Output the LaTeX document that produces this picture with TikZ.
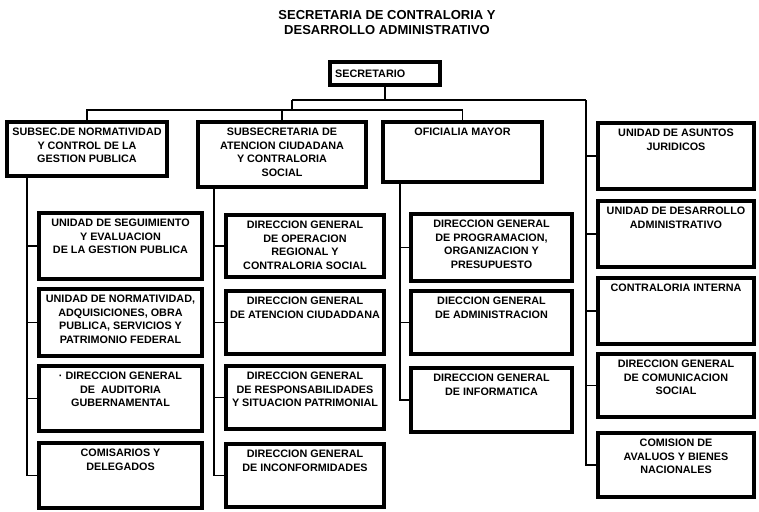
\documentclass[tikz,border=0pt]{standalone}
\usepackage{fontspec}
\setmainfont{Liberation Sans}
\begin{document}
\begin{tikzpicture}[x=1pt,y=-1pt,
  bx/.style={draw=black, line width=3.5pt, fill=white, outer sep=0pt, inner sep=0pt},
  txt/.style={font=\fontsize{10.8}{13.5}\selectfont\bfseries, align=center, inner sep=0pt},
  ln/.style={draw=black, line width=1.1pt}]
\newcommand\obox[6]{%
  \node[bx, minimum width={#4pt-#2pt}, minimum height={#5pt-#3pt}] (#1) at ({(#2+#4)/2},{(#3+#5)/2}) {};
  \node[txt, anchor=north] (#1t) at ([yshift=-6pt]#1.north) {#6};}
\fill[white] (0,0) rectangle (759,511);
\useasboundingbox (0,0) rectangle (759,511);
% title
\node[font=\fontsize{13}{15}\selectfont\bfseries, align=center, inner sep=0pt] (title) at (387,22.5)
  {SECRETARIA DE CONTRALORIA Y\\DESARROLLO ADMINISTRATIVO};
% secretario
\node[bx, minimum width=110pt, minimum height=23pt] (sec) at (385,73.5) {};
\node[txt, anchor=west] (sect) at ([xshift=5pt]sec.west) {SECRETARIO};
% top level
\obox{s1}{7}{122}{167}{176}{SUBSEC.DE NORMATIVIDAD\\Y CONTROL DE LA\\GESTION PUBLICA}
\obox{s2}{198}{122}{366}{187}{SUBSECRETARIA DE\\ATENCION CIUDADANA\\Y CONTRALORIA\\SOCIAL}
\obox{s3}{383}{122}{542}{182}{OFICIALIA MAYOR}
% right column
\obox{r1}{598}{123}{754}{189}{UNIDAD DE ASUNTOS\\JURIDICOS}
\obox{r2}{598}{201}{754}{267}{UNIDAD DE DESARROLLO\\ADMINISTRATIVO}
\obox{r3}{598}{278}{754}{344}{CONTRALORIA INTERNA}
\obox{r4}{598}{354}{754}{417}{DIRECCION GENERAL\\DE COMUNICACION\\SOCIAL}
\obox{r5}{598}{433}{754}{497}{COMISION DE\\AVALUOS Y BIENES\\NACIONALES}
% column 1
\obox{a1}{39}{213}{202}{279}{UNIDAD DE SEGUIMIENTO\\Y EVALUACION\\DE LA GESTION PUBLICA}
\obox{a2}{39}{289}{202}{356}{UNIDAD DE NORMATIVIDAD,\\ADQUISICIONES, OBRA\\PUBLICA, SERVICIOS Y\\PATRIMONIO FEDERAL}
\obox{a3}{39}{366}{202}{431}{· DIRECCION GENERAL\\DE \ AUDITORIA\\GUBERNAMENTAL}
\obox{a4}{39}{443}{202}{508}{COMISARIOS Y\\DELEGADOS}
% column 2
\obox{b1}{226}{215}{384}{277}{DIRECCION GENERAL\\DE OPERACION\\REGIONAL Y\\CONTRALORIA SOCIAL}
\obox{b2}{226}{291}{384}{354}{DIRECCION GENERAL\\DE ATENCION CIUDADDANA}
\obox{b3}{226}{366}{384}{429}{DIRECCION GENERAL\\DE RESPONSABILIDADES\\Y SITUACION PATRIMONIAL}
\obox{b4}{226}{444}{384}{507}{DIRECCION GENERAL\\DE INCONFORMIDADES}
% column 3
\obox{c1}{411}{214}{572}{281}{DIRECCION GENERAL\\DE PROGRAMACION,\\ORGANIZACION Y\\PRESUPUESTO}
\obox{c2}{411}{291}{572}{354}{DIECCION GENERAL\\DE ADMINISTRACION}
\obox{c3}{411}{368}{572}{432}{DIRECCION GENERAL\\DE INFORMATICA}
% connectors
\coordinate (j1) at (292,100);
\coordinate (jr) at (586,100);
\coordinate (j2) at (292,110);
\coordinate (k1) at (27,176);
\coordinate (k2) at (214,187);
\coordinate (k3) at (400,182);
\draw[ln] (sec.south) -- (sec.south |- j1);
\draw[ln] (j1) -- (jr);
\draw[ln] (j1) -- (j2);
\foreach \t in {s1,s2,s3} \draw[ln] (j2) -| (\t.north);
\foreach \t in {r1,r2,r3,r4,r5} \draw[ln] (jr) |- (\t.west);
\foreach \t in {a1,a2,a3,a4} \draw[ln] (k1) |- (\t.west);
\foreach \t in {b1,b2,b3,b4} \draw[ln] (k2) |- (\t.west);
\foreach \t in {c1,c2,c3} \draw[ln] (k3) |- (\t.west);
\end{tikzpicture}
\end{document}
